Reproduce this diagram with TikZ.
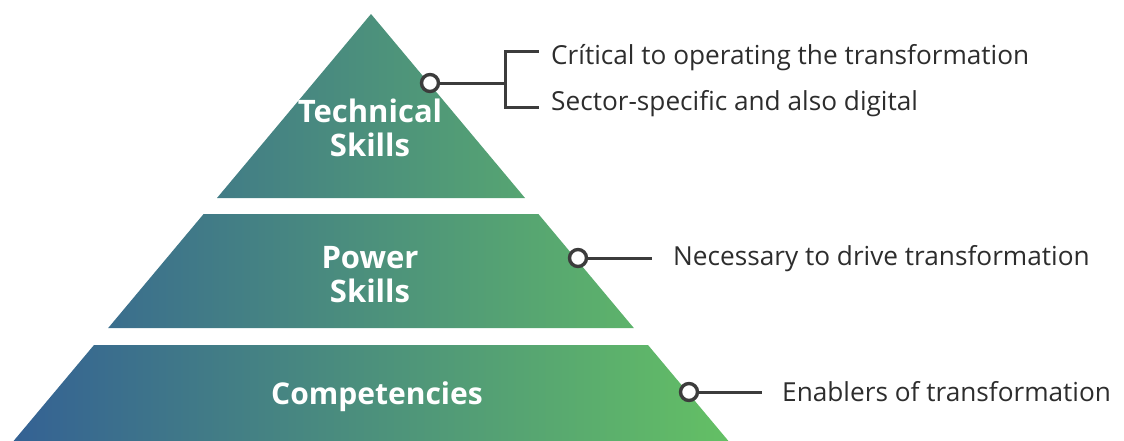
\documentclass[tikz,border=0pt]{standalone}
\usepackage{fontspec}
\setmainfont{Open Sans}
\definecolor{pleft}{RGB}{52,97,148}
\definecolor{pmid}{RGB}{99,137,115}
\definecolor{pright}{RGB}{100,192,100}
\definecolor{ink}{RGB}{60,60,60}
\definecolor{txt}{RGB}{45,45,45}
\tikzset{
  tier/.style={text=white, font=\bfseries\fontsize{31}{34}\selectfont, align=center, inner sep=0pt},
  note/.style={text=txt, font=\fontsize{26.2}{30}\selectfont, anchor=base west, inner sep=0pt},
  dot/.style={circle, draw=ink, fill=white, line width=3.4pt, minimum size=17pt, inner sep=0pt},
  conn/.style={draw=ink, line width=3pt},
}
\begin{document}
\begin{tikzpicture}[x=1pt,y=-1pt]
\useasboundingbox (0,0) rectangle (1124,440);
\begin{scope}
  \clip (371,14) -- (525,198) -- (217,198) -- cycle
        (203.6,214) -- (538.4,214) -- (633.8,328) -- (108.2,328) -- cycle
        (94,345) -- (648,345) -- (731.8,445) -- (10.2,445) -- cycle;
  \shade[left color=pleft, middle color=pmid, right color=pright] (10,0) rectangle (732,445);
\end{scope}
% tier labels
\node[tier] (tech) at (370,128) {Technical\\Skills};
\node[tier] (power) at (370,275) {Power\\Skills};
\node[tier, font=\bfseries\fontsize{30}{34}\selectfont] (comp) at (377,397) {Competencies};
% markers
\node[dot] (c1) at (430,83) {};
\node[dot] (c2) at (578,258) {};
\node[dot] (c3) at (689,392) {};
% connector end points
\coordinate (b1) at (505,83);
\coordinate (b1t) at (505,51);
\coordinate (b1b) at (505,107);
\coordinate (e1t) at (537,51);
\coordinate (e1b) at (537,107);
\coordinate (e2) at (652,258);
\coordinate (e3) at (762,392);
% notes
\node[note] (n1a) at (551,64) {Crítical to operating the transformation};
\node[note] (n1b) at (551,110) {Sector-specific and also digital};
\node[note] (n2) at (673,265) {Necessary to drive transformation};
\node[note] (n3) at (782,401) {Enablers of transformation};
% connectors
\draw[conn] (c1.east) -- (b1);
\draw[conn, line cap=rect] (e1t) -- (b1t) -- (b1b) -- (e1b);
\draw[conn] (c2.east) -- (e2);
\draw[conn] (c3.east) -- (e3);
\end{tikzpicture}
\end{document}
